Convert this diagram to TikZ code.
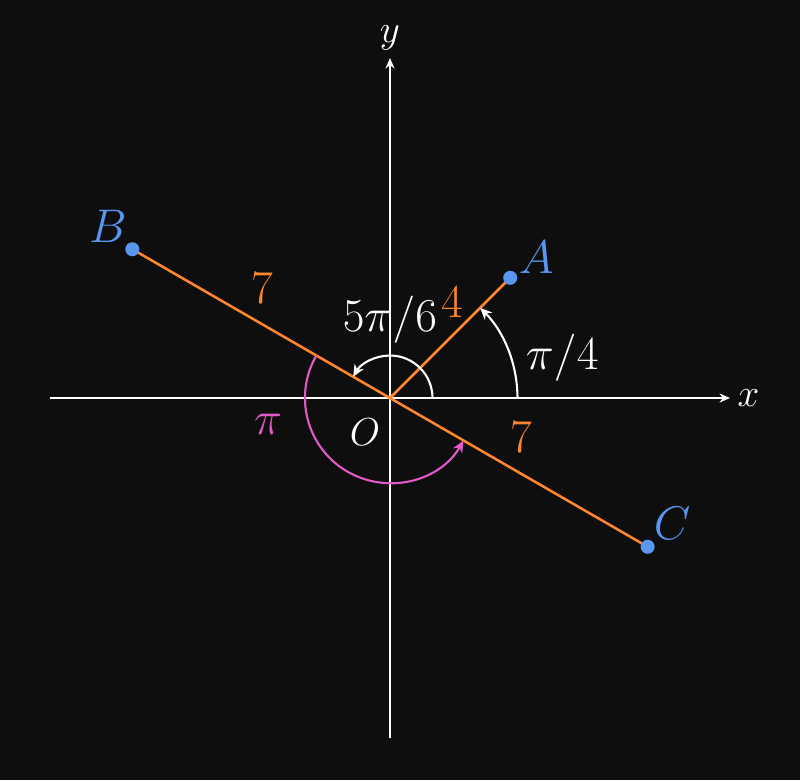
\documentclass[tikz,border=0pt]{standalone}
\usepackage{tikz}
\usetikzlibrary{arrows.meta,calc,positioning}
\definecolor{bgdark}{RGB}{14,14,14}
\definecolor{segorange}{RGB}{255,134,47}
\definecolor{ptblue}{RGB}{88,150,240}
\definecolor{arcpink}{RGB}{225,90,200}
\tikzset{
  axis/.style={white,line width=1.3pt,-{Stealth[length=7pt,width=6pt]}},
  seg/.style={segorange,line width=1.7pt},
  angarc/.style={line width=1.4pt,-{Stealth[length=8pt,width=7pt]}},
  ptdot/.style={ptblue},
  bigl/.style={font=\Huge,scale=1.27},
  smalll/.style={font=\Huge,scale=1.05}
}
\begin{document}
\begin{tikzpicture}[>=Latex]
\fill[bgdark] (-9.176,-8.988) rectangle (9.647,9.365);
\useasboundingbox (-9.176,-8.988) rectangle (9.647,9.365);
\coordinate (O) at (0,0);
\coordinate (A) at (45:4);
\coordinate (B) at (150:7);
\coordinate (C) at (-30:7);
\coordinate (xl) at (-8,0);
\coordinate (xr) at (8,0);
\coordinate (yb) at (0,-8);
\coordinate (yt) at (0,8);
% axes
\draw[axis] (xl) -- (xr) node[right=1pt,white,smalll] (xlab) {$x$};
\draw[axis] (yb) -- (yt) node[above=1pt,white,smalll] (ylab) {$y$};
% segments
\draw[seg] (O) -- (A);
\draw[seg] (O) -- (B);
\draw[seg] (O) -- (C);
% angles
\draw[angarc,white] (1,0) arc (0:150:1);
\draw[angarc,white] (3,0) arc (0:45:3);
\draw[angarc,arcpink] (150:2) arc (150:330:2);
% points
\fill[ptdot] (A) circle (0.165);
\fill[ptdot] (B) circle (0.165);
\fill[ptdot] (C) circle (0.165);
\node[ptblue,bigl] (Alab) at (3.44,3.32) {$A$};
\node[ptblue,bigl] (Blab) at (-6.64,4.05) {$B$};
\node[ptblue,bigl] (Clab) at (6.64,-2.96) {$C$};
% labels
\node[segorange,bigl] (lenB) at (-3.01,2.59) {$7$};
\node[segorange,bigl] (lenA) at (1.46,2.26) {$4$};
\node[segorange,bigl] (lenC) at (3.08,-0.92) {$7$};
\node[white,bigl] (angB) at (0,1.84) {$5\pi/6$};
\node[white,bigl] (angA) at (4.05,0.96) {$\pi/4$};
\node[arcpink,bigl] (angPi) at (-2.87,-0.61) {$\pi$};
\node[white,smalll] (Olab) at (-0.59,-0.8) {$O$};
\end{tikzpicture}
\end{document}
